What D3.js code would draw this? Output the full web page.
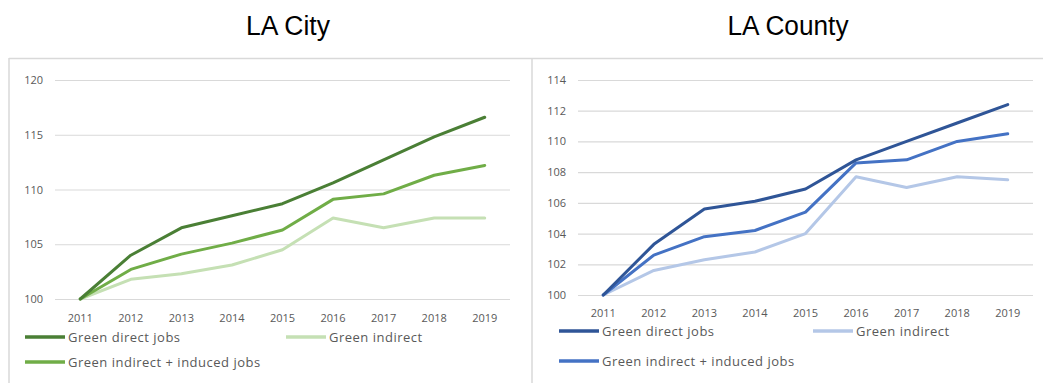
<!DOCTYPE html>
<html>
<head>
<meta charset="utf-8">
<script src="https://cdn.jsdelivr.net/npm/d3@7"></script>
<style>
  html, body { margin: 0; padding: 0; background: #fff; }
  svg { display: block; }
</style>
</head>
<body>
<svg id="chart" width="1043" height="383"></svg>
<script>
// Years on the x axis
const years = ["2011", "2012", "2013", "2014", "2015", "2016", "2017", "2018", "2019"];

// Series labels
const seriesNames = ["Green direct jobs", "Green indirect", "Green indirect + induced jobs"];

// LA City index (2011 = 100)
const cityDirect   = [100, 104.0, 106.5, 107.6, 108.7, 110.6, 112.7, 114.8, 116.6];
const cityIndirect = [100, 101.8, 102.3, 103.1, 104.5, 107.4, 106.5, 107.4, 107.4];
const cityInduced  = [100, 102.7, 104.1, 105.1, 106.3, 109.1, 109.6, 111.3, 112.2];
const cityTicks = [100, 105, 110, 115, 120];

// LA County index (2011 = 100)
const countyDirect   = [100, 103.3, 105.6, 106.1, 106.9, 108.8, 110.0, 111.2, 112.4];
const countyIndirect = [100, 101.6, 102.3, 102.8, 104.0, 107.7, 107.0, 107.7, 107.5];
const countyInduced  = [100, 102.6, 103.8, 104.2, 105.4, 108.6, 108.8, 110.0, 110.5];
const countyTicks = [100, 102, 104, 106, 108, 110, 112, 114];

const svg = d3.select("#chart");
const labelFont = "Open Sans, DejaVu Sans, sans-serif";

// Panel frame lines
const frame = svg.append("g").attr("stroke", "#d9d9d9").attr("stroke-width", 1.5).attr("fill", "none");
frame.append("line").attr("x1", 9).attr("x2", 1043).attr("y1", 58.5).attr("y2", 58.5);
frame.append("line").attr("x1", 9).attr("x2", 9).attr("y1", 58).attr("y2", 383);
frame.append("line").attr("x1", 532).attr("x2", 532).attr("y1", 58).attr("y2", 383);

function drawPanel(opt) {
  const g = svg.append("g");

  g.append("text")
    .attr("x", opt.titleX).attr("y", 35)
    .attr("text-anchor", "middle")
    .attr("font-family", "Liberation Sans, Arial, sans-serif")
    .attr("font-size", 27)
    .attr("textLength", opt.titleW)
    .attr("lengthAdjust", "spacingAndGlyphs")
    .attr("fill", "#000")
    .text(opt.title);

  const x = d3.scaleBand().domain(years).range([opt.x0, opt.x1]);
  const y = d3.scaleLinear().domain([opt.ticks[0], opt.ticks[opt.ticks.length - 1]]).range([opt.yBottom, opt.yTop]);

  // Horizontal gridlines + y labels
  const yAxis = d3.axisLeft(y).tickValues(opt.ticks).tickSize(-(opt.x1 - opt.x0)).tickPadding(12);
  const ya = g.append("g").attr("transform", `translate(${opt.x0},0)`).call(yAxis);
  ya.select(".domain").remove();
  ya.selectAll(".tick line").attr("stroke", "#d9d9d9").attr("stroke-width", 1.2);
  ya.selectAll(".tick text")
    .attr("fill", "#595959").attr("font-size", 11)
    .attr("font-family", labelFont);

  // Year labels
  const xAxis = d3.axisBottom(x).tickSize(0).tickPadding(opt.xLabelPad);
  const xa = g.append("g").attr("transform", `translate(0,${opt.yBottom})`).call(xAxis);
  xa.select(".domain").remove();
  xa.selectAll(".tick text")
    .attr("fill", "#595959").attr("font-size", 11)
    .attr("font-family", labelFont);

  const line = d3.line()
    .x((d, i) => x(years[i]) + x.bandwidth() / 2)
    .y(d => y(d));

  // Draw light series first, darker on top
  const order = [1, 2, 0];
  order.forEach(k => {
    g.append("path")
      .datum(opt.series[k])
      .attr("fill", "none")
      .attr("stroke", opt.colors[k])
      .attr("stroke-width", 3)
      .attr("stroke-linejoin", "round")
      .attr("stroke-linecap", "round")
      .attr("d", line);
  });

  // Legend
  const items = [
    { k: 0, lx: opt.leg[0], ly: opt.legY[0] },
    { k: 1, lx: opt.leg[1], ly: opt.legY[0] },
    { k: 2, lx: opt.leg[0], ly: opt.legY[1] }
  ];
  items.forEach(it => {
    g.append("line")
      .attr("x1", it.lx).attr("x2", it.lx + 40)
      .attr("y1", it.ly).attr("y2", it.ly)
      .attr("stroke", opt.colors[it.k]).attr("stroke-width", 3.5);
    g.append("text")
      .attr("x", it.lx + 43).attr("y", it.ly)
      .attr("dy", "0.35em")
      .attr("fill", "#595959")
      .attr("font-size", 13)
      .attr("letter-spacing", 0.5)
      .attr("font-family", labelFont)
      .text(seriesNames[it.k]);
  });
}

drawPanel({
  title: "LA City", titleX: 288, titleW: 84,
  x0: 55, x1: 510, yTop: 80, yBottom: 299,
  ticks: cityTicks, xLabelPad: 15,
  series: [cityDirect, cityIndirect, cityInduced],
  colors: ["#4a7f35", "#c5e0b4", "#70ad47"],
  leg: [25, 286], legY: [337, 362]
});

drawPanel({
  title: "LA County", titleX: 788, titleW: 121,
  x0: 578, x1: 1033, yTop: 80, yBottom: 295,
  ticks: countyTicks, xLabelPad: 14,
  series: [countyDirect, countyIndirect, countyInduced],
  colors: ["#2f5597", "#b4c7e7", "#4472c4"],
  leg: [559, 813], legY: [331, 361]
});
</script>
</body>
</html>
